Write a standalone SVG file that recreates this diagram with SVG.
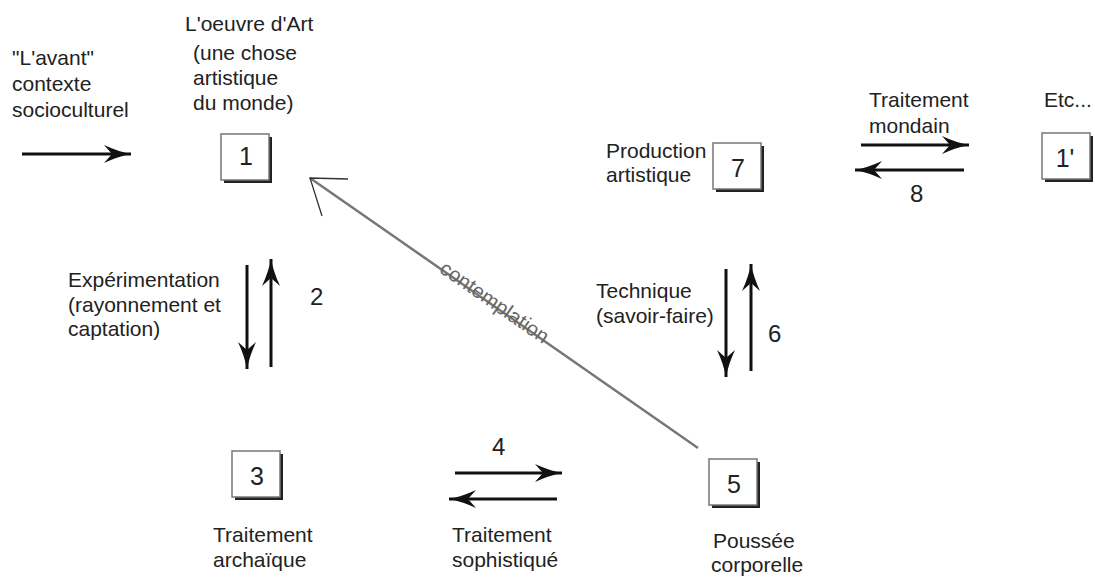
<svg xmlns="http://www.w3.org/2000/svg" width="1095" height="577" viewBox="0 0 1095 577">
  <style>
    .lbl { font-family: "Liberation Sans", Arial, sans-serif; font-size: 21px; fill: #222; }
    .num { font-family: "Liberation Sans", Arial, sans-serif; font-size: 24px; fill: #222; }
    .digit { font-family: "Liberation Sans", Arial, sans-serif; font-size: 25px; fill: #222; text-anchor: middle; }
    .box { fill: #fff; stroke: #777; stroke-width: 1.5; }
    .shadow { fill: #222; }
    .flow { stroke: #111; stroke-width: 3; fill: none; marker-end: url(#head); }
    .contemp { stroke: #777; stroke-width: 2.5; fill: none; }
    .barb { stroke: #333; stroke-width: 1.3; fill: none; }
    .contemp-lbl { font-family: "Liberation Sans", Arial, sans-serif; font-size: 20.5px; fill: #666; }
  </style>
  <defs>
    <marker id="head" markerUnits="userSpaceOnUse" markerWidth="32" markerHeight="22" viewBox="-29 -11 32 22" refX="0" refY="0" orient="auto">
      <path d="M0,0 Q-13,-2.5 -27,-9 L-19,0 L-27,9 Q-13,2.5 0,0 Z" fill="#111"/>
    </marker>
    <g id="boxshape">
      <rect class="shadow" x="3" y="3" width="48" height="46"/>
      <rect class="box" x="0" y="0" width="48" height="46"/>
    </g>
  </defs>

  <rect width="1095" height="577" fill="#fff"/>

  <!-- connectors -->
  <g id="connectors">
    <!-- incoming context -->
    <line class="flow" x1="22" y1="154" x2="131" y2="154"/>
    <!-- 2 : experimentation -->
    <line class="flow" x1="247" y1="265" x2="247" y2="369"/>
    <line class="flow" x1="271" y1="367" x2="271" y2="259"/>
    <!-- 4 -->
    <line class="flow" x1="455" y1="473" x2="562" y2="473"/>
    <line class="flow" x1="557" y1="499" x2="449" y2="499"/>
    <!-- 6 : technique -->
    <line class="flow" x1="726" y1="269" x2="726" y2="377"/>
    <line class="flow" x1="751" y1="371" x2="751" y2="264"/>
    <!-- 8 : traitement mondain -->
    <line class="flow" x1="861" y1="145" x2="969" y2="145"/>
    <line class="flow" x1="964" y1="170" x2="855" y2="170"/>
    <!-- contemplation -->
    <line class="contemp" x1="698" y1="448" x2="310" y2="178"/>
    <polyline class="barb" points="348,179 310,178 322,216"/>
    <text class="contemp-lbl" transform="translate(440,269) rotate(34.8)" dy="3">contemplation</text>
  </g>

  <!-- free labels -->
  <g id="labels">
    <text class="lbl" x="12" y="65">"L'avant"</text>
    <text class="lbl" x="12" y="91">contexte</text>
    <text class="lbl" x="12" y="117">socioculturel</text>

    <text class="lbl" x="68" y="287">Expérimentation</text>
    <text class="lbl" x="68" y="312">(rayonnement et</text>
    <text class="lbl" x="68" y="336">captation)</text>
    <text class="num" x="310" y="305">2</text>

    <text class="num" x="492" y="455">4</text>
    <text class="lbl" x="452" y="542">Traitement</text>
    <text class="lbl" x="452" y="567">sophistiqué</text>

    <text class="lbl" x="596" y="298">Technique</text>
    <text class="lbl" x="596" y="323">(savoir-faire)</text>
    <text class="num" x="768" y="342">6</text>

    <text class="lbl" x="869" y="107">Traitement</text>
    <text class="lbl" x="869" y="133">mondain</text>
    <text class="num" x="910" y="202">8</text>
  </g>

  <!-- nodes -->
  <g id="node-1">
    <text class="lbl" x="185" y="31">L'oeuvre d'Art</text>
    <text class="lbl" x="193" y="60">(une chose</text>
    <text class="lbl" x="193" y="85">artistique</text>
    <text class="lbl" x="193" y="110">du monde)</text>
    <use href="#boxshape" x="221" y="134"/>
    <text class="digit" x="246" y="165">1</text>
  </g>

  <g id="node-3">
    <use href="#boxshape" x="232" y="451"/>
    <text class="digit" x="257" y="485">3</text>
    <text class="lbl" x="213" y="542">Traitement</text>
    <text class="lbl" x="213" y="567">archaïque</text>
  </g>

  <g id="node-5">
    <use href="#boxshape" x="709" y="459"/>
    <text class="digit" x="734" y="493">5</text>
    <text class="lbl" x="713" y="548">Poussée</text>
    <text class="lbl" x="711" y="572">corporelle</text>
  </g>

  <g id="node-7">
    <text class="lbl" x="606" y="158">Production</text>
    <text class="lbl" x="606" y="182">artistique</text>
    <use href="#boxshape" x="713" y="143"/>
    <text class="digit" x="738" y="177">7</text>
  </g>

  <g id="node-1prime">
    <text class="lbl" x="1044" y="107">Etc...</text>
    <use href="#boxshape" x="1042" y="133"/>
    <text class="digit" x="1065" y="167">1'</text>
  </g>
</svg>
